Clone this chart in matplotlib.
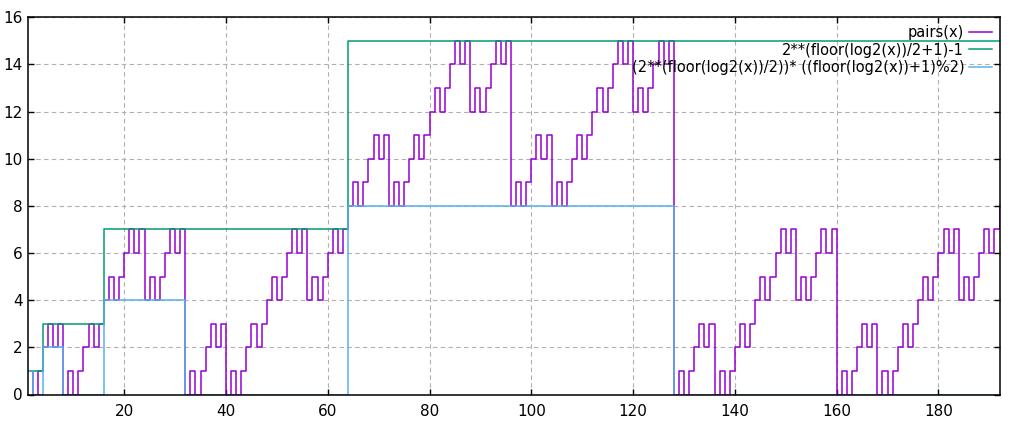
import matplotlib
matplotlib.use("Agg")
import matplotlib.pyplot as plt
import numpy as np

plt.rcParams['font.family'] = ['DejaVu Sans']
plt.rcParams['font.size'] = 10.5

# pairs(x), one value per integer x = 1 .. 192
pairs_x = list(range(1, 193))
pairs_y = [
       1, 0, 1, 2, 3, 2, 3, 0, 1, 0, 1, 2, 3, 2, 3,
    4, 5, 4, 5, 6, 7, 6, 7, 4, 5, 4, 5, 6, 7, 6, 7,
    0, 1, 0, 1, 2, 3, 2, 3, 0, 1, 0, 1, 2, 3, 2, 3,
    4, 5, 4, 5, 6, 7, 6, 7, 4, 5, 4, 5, 6, 7, 6, 7,
    8, 9, 8, 9, 10, 11, 10, 11, 8, 9, 8, 9, 10, 11, 10, 11,
    12, 13, 12, 13, 14, 15, 14, 15, 12, 13, 12, 13, 14, 15, 14, 15,
    8, 9, 8, 9, 10, 11, 10, 11, 8, 9, 8, 9, 10, 11, 10, 11,
    12, 13, 12, 13, 14, 15, 14, 15, 12, 13, 12, 13, 14, 15, 14, 15,
    0, 1, 0, 1, 2, 3, 2, 3, 0, 1, 0, 1, 2, 3, 2, 3,
    4, 5, 4, 5, 6, 7, 6, 7, 4, 5, 4, 5, 6, 7, 6, 7,
    0, 1, 0, 1, 2, 3, 2, 3, 0, 1, 0, 1, 2, 3, 2, 3,
    4, 5, 4, 5, 6, 7, 6, 7, 4, 5, 4, 5, 6, 7, 6, 7,
    8,
]

# upper bound 2**(floor(log2(x))/2+1)-1
upper_x = [1, 4, 16, 64, 192]
upper_y = [1, 3, 7, 15, 15]

# (2**(floor(log2(x))/2)) * ((floor(log2(x))+1)%2)
lower_x = [1, 2, 4, 8, 16, 32, 64, 128, 192]
lower_y = [1, 0, 2, 0, 4, 0, 8, 0, 0]

labels = ["pairs(x)",
          "2**(floor(log2(x))/2+1)-1",
          "(2**(floor(log2(x))/2))* ((floor(log2(x))+1)%2)"]

fig = plt.figure(figsize=(10.15, 4.30), dpi=100)
ax = fig.add_axes([27.5/1015, 1-394.5/430, (999.5-27.5)/1015, (394.5-17.3)/430])

ax.step(pairs_x, pairs_y, where='post', color='#9400d3', lw=1.1, label=labels[0])
ax.step(upper_x, upper_y, where='post', color='#009e73', lw=1.1, label=labels[1])
ax.step(lower_x, lower_y, where='post', color='#56b4e9', lw=1.1, label=labels[2])

ax.set_xlim(1, 192)
ax.set_ylim(0, 16)
ax.set_xticks(range(20, 181, 20))
ax.set_yticks(range(0, 17, 2))
ax.grid(True, color='#b0b0b0', ls=(0, (4, 3)), lw=0.8)
ax.tick_params(direction='in', top=True, right=True, length=4, width=1,
               labelsize=11)
ax.tick_params(axis='x', pad=7)
ax.tick_params(axis='y', pad=3.5)
for s in ax.spines.values():
    s.set_linewidth(1.1)

ax.legend(loc='upper right', frameon=False, markerfirst=False,
          handlelength=1.55, handletextpad=0.35, labelspacing=0.18,
          borderaxespad=0.32, borderpad=0.2)

fig.savefig("out.png", dpi=100)
